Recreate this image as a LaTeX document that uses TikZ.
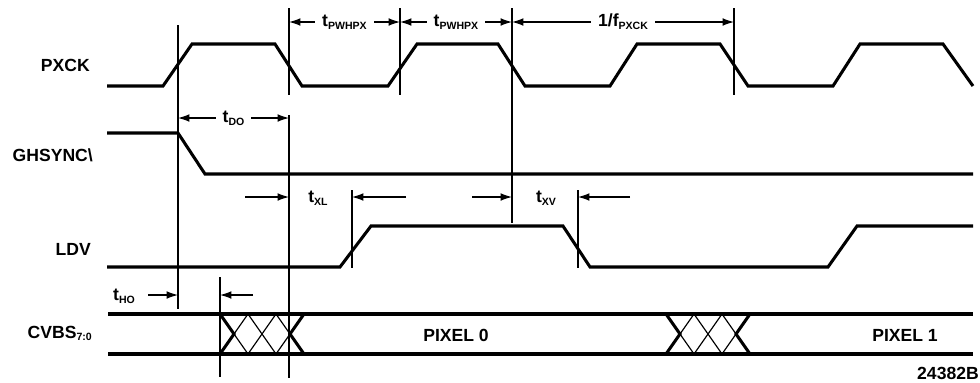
\documentclass[tikz,border=0pt]{standalone}
\usepackage{fontspec}
\setmainfont{Liberation Sans}
\usetikzlibrary{arrows.meta}
\newcommand\tiefs[2]{#1\raisebox{-2.4pt}{\fontsize{9}{10}\selectfont #2}}
\tikzset{
  Signal/.style={line width=2.6pt}, % Pegel und Bus
  Hilfslinie/.style={line width=1pt},
  Masspfeil/.style={Hilfslinie,->},
  Zeit/.style={fill=white,inner xsep=6pt,inner ysep=1pt}, % Zeitangabe im Pfeil
  Name/.style={anchor=base east,inner sep=0pt}
}

\begin{document}
\begin{tikzpicture}[x=0.03cm,y=-0.03cm,
font=\fontsize{15}{18}\selectfont\bfseries,
>={Latex[length=3.4mm,width=2.3mm]} % Pfeilspitzen
]
\useasboundingbox (0,0) rectangle (980,382);

%Signalnamen
\node[Name] (pxck) at (90,71) {PXCK};
\node[Name] (ghsync) at (93,161) {GHSYNC\textbackslash};
\node[Name] (ldv) at (91,255) {LDV};
\node[Name] (cvbs) at (92,338) {\tiefs{CVBS}{7:0}};

%Signale
\draw[Signal] (107,86) -- (163,86) -- (192,44) -- (275,44) -- (302,86) -- (388,86)
  -- (417,44) -- (498,44) -- (525,86) -- (610,86) -- (637,44) -- (720,44)
  -- (748,86) -- (833,86) -- (860,44) -- (943,44) -- (973,86);
\draw[Signal] (107,133) -- (178,133) -- (205,174) -- (973,174);
\draw[Signal] (107,267) -- (340,267) -- (371,226) -- (563,226) -- (590,267)
  -- (828,267) -- (857,226) -- (973,226);

%Bus
\draw[Signal] (108,314) -- (973,314);
\draw[Signal] (108,354) -- (973,354);
\foreach \c in {234,262,290,680,708,736}
  \draw[Hilfslinie] (\c-14,314) -- (\c+14,354) (\c-14,354) -- (\c+14,314);
\draw[Signal] (220,314) -- (234,334) -- (220,354);
\draw[Signal] (304,314) -- (290,334) -- (304,354);
\draw[Signal] (666,314) -- (680,334) -- (666,354);
\draw[Signal] (750,314) -- (736,334) -- (750,354);
\node[inner sep=0pt,anchor=base] (px0) at (456,341) {PIXEL 0};
\node[inner sep=0pt,anchor=base] (px1) at (905,341) {PIXEL 1};

%Hilfslinien
\coordinate (L1) at (178,25);
\coordinate (L2) at (289,8);
\coordinate (L3) at (400,8);
\coordinate (L4) at (512,8);
\coordinate (L5) at (734,8);
\coordinate (L6) at (289,115);
\coordinate (LX) at (352,190);
\coordinate (LV) at (578,190);
\coordinate (LB) at (220,277);
\draw[Hilfslinie] (L1) -- (178,309);
\draw[Hilfslinie] (L2) -- (289,95);
\draw[Hilfslinie] (L3) -- (400,95);
\draw[Hilfslinie] (L4) -- (512,223);
\draw[Hilfslinie] (L5) -- (734,95);
\draw[Hilfslinie] (L6) -- (289,378);
\draw[Hilfslinie] (LX) -- (352,268);
\draw[Hilfslinie] (LV) -- (578,268);
\draw[Hilfslinie] (LB) -- (220,377);

%Zeitangaben
\coordinate (hP) at (0,22);
\coordinate (hD) at (0,118);
\coordinate (hX) at (0,197);
\coordinate (hH) at (0,295);
\draw[Hilfslinie,<->] (L2 |- hP) -- node[Zeit]{\tiefs{t}{PWHPX}} (L3 |- hP);
\draw[Hilfslinie,<->] (L3 |- hP) -- node[Zeit]{\tiefs{t}{PWHPX}} (L4 |- hP);
\draw[Hilfslinie,<->] (L4 |- hP) -- node[Zeit]{\tiefs{1/f}{PXCK}} (L5 |- hP);
\draw[Hilfslinie,<->] (L1 |- hD) -- node[Zeit]{\tiefs{t}{DO}} (L6 |- hD);

\coordinate (xl1) at (245,197);
\coordinate (xl2) at (406,197);
\node[inner sep=0pt] (txl) at (318,198) {\tiefs{t}{XL}};
\draw[Masspfeil] (xl1) -- (L6 |- hX);
\draw[Masspfeil] (xl2) -- (LX |- hX);

\coordinate (xv1) at (472,197);
\coordinate (xv2) at (630,197);
\node[inner sep=0pt] (txv) at (546,198) {\tiefs{t}{XV}};
\draw[Masspfeil] (xv1) -- (L4 |- hX);
\draw[Masspfeil] (xv2) -- (LV |- hX);

\coordinate (ho1) at (148,295);
\coordinate (ho2) at (253,295);
\node[inner sep=0pt] (tho) at (124,296) {\tiefs{t}{HO}};
\draw[Masspfeil] (ho1) -- (L1 |- hH);
\draw[Masspfeil] (ho2) -- (LB |- hH);

\node[Name] (nr) at (979,379) {24382B};
\end{tikzpicture}
\end{document}
